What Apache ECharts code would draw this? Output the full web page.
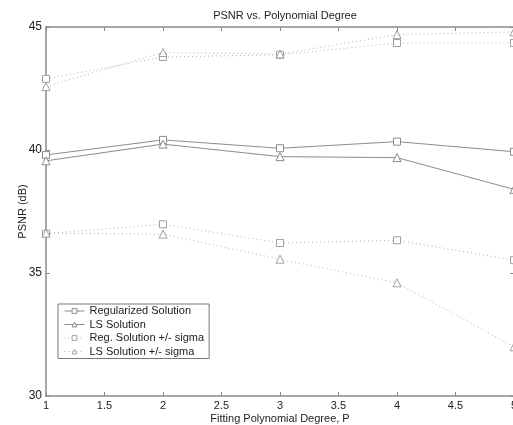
<!DOCTYPE html>
<html><head><meta charset="utf-8">
<script src="https://cdn.jsdelivr.net/npm/echarts@6/dist/echarts.min.js"></script>
<style>html,body{margin:0;padding:0;background:#fff}#c{width:513px;height:425px}</style>
</head><body><div id="c"></div>
<script>
const degrees = [1, 2, 3, 4, 5];
const regSolution = [39.80, 40.41, 40.07, 40.34, 39.93];
const lsSolution = [39.56, 40.24, 39.73, 39.69, 38.40];
const regUpper = [42.89, 43.78, 43.87, 44.35, 44.35];
const regLower = [36.60, 36.98, 36.22, 36.33, 35.52];
const lsUpper = [42.58, 43.96, 43.90, 44.69, 44.80];
const lsLower = [36.62, 36.58, 35.56, 34.60, 32.00];
const xTicks = [1, 1.5, 2, 2.5, 3, 3.5, 4, 4.5, 5];
const yTicks = [30, 35, 40, 45];

const pair = (ys) => degrees.map((x, i) => [x, ys[i]]);
const FONT = 'Liberation Sans';
const axisCol = '#8a8a8a';
const solidCol = '#8c8c8c';
const dotCol = '#b0b0b0';

function mk(name, ys, symbol, dotted) {
  return {
    name, type: 'line', data: pair(ys), symbol,
    symbolSize: symbol === 'triangle' ? 8 : 7,
    showSymbol: true,
    lineStyle: { color: dotted ? dotCol : solidCol, width: 1, type: dotted ? [1, 3] : 'solid' },
    itemStyle: { color: '#fff', borderColor: dotted ? '#a0a0a0' : solidCol, borderWidth: 1 },
    emphasis: { disabled: true }, animation: false, z: dotted ? 2 : 3
  };
}

const chart = echarts.init(document.getElementById('c'), null, { renderer: 'canvas' });
chart.setOption({
  backgroundColor: '#fff',
  animation: false,
  title: {
    text: 'PSNR vs. Polynomial Degree', left: 280, textAlign: 'center', top: 5,
    textStyle: { fontFamily: FONT, fontSize: 11, fontWeight: 'normal', color: '#222' }
  },
  grid: { left: 46, right: -1, top: 27, bottom: 29, containLabel: false, outerBoundsMode: 'none' },
  legend: {
    orient: 'vertical', left: 58, top: 304,
    data: ['Regularized Solution', 'LS Solution', 'Reg. Solution +/- sigma', 'LS Solution +/- sigma'],
    itemWidth: 20, itemHeight: 6, itemGap: 1.5,
    padding: [1, 5, 1, 6],
    borderColor: '#777', borderWidth: 1, backgroundColor: '#fff',
    itemStyle: { color: '#fff', borderWidth: 1 },
    lineStyle: { width: 1 },
    textStyle: { fontFamily: FONT, fontSize: 11, color: '#222', lineHeight: 12 },
    selectedMode: false
  },
  xAxis: [{
    type: 'value', min: xTicks[0], max: xTicks[xTicks.length - 1], interval: 0.5,
    position: 'bottom',
    name: 'Fitting Polynomial Degree, P', nameLocation: 'middle', nameGap: 17, nameMoveOverlap: false,
    nameTextStyle: { fontFamily: FONT, fontSize: 11, color: '#222' },
    axisLine: { lineStyle: { color: axisCol, width: 1.5 } },
    axisTick: { inside: true, length: 4, lineStyle: { color: axisCol } },
    axisLabel: { fontFamily: FONT, fontSize: 11, color: '#222', margin: 4 },
    splitLine: { show: false }
  }, {
    type: 'value', min: xTicks[0], max: xTicks[xTicks.length - 1], interval: 0.5,
    position: 'top',
    axisLine: { lineStyle: { color: axisCol, width: 1.5 } },
    axisTick: { inside: true, length: 4, lineStyle: { color: axisCol } },
    axisLabel: { show: false }, splitLine: { show: false }
  }],
  yAxis: [{
    type: 'value', min: yTicks[0], max: yTicks[yTicks.length - 1], interval: 5,
    position: 'left',
    name: 'PSNR (dB)', nameLocation: 'middle', nameGap: 18, nameMoveOverlap: false,
    nameTextStyle: { fontFamily: FONT, fontSize: 11, color: '#222' },
    axisLine: { show: true, lineStyle: { color: axisCol, width: 1.5 } },
    axisTick: { show: true, inside: true, length: 4, lineStyle: { color: axisCol } },
    axisLabel: { fontFamily: FONT, fontSize: 12, color: '#222', margin: 4 },
    splitLine: { show: false }
  }, {
    type: 'value', min: yTicks[0], max: yTicks[yTicks.length - 1], interval: 5,
    position: 'right',
    axisLine: { show: true, lineStyle: { color: axisCol, width: 1.5 } },
    axisTick: { show: true, inside: true, length: 4, lineStyle: { color: axisCol } },
    axisLabel: { show: false }, splitLine: { show: false }
  }],
  series: [
    mk('Regularized Solution', regSolution, 'rect', false),
    mk('LS Solution', lsSolution, 'triangle', false),
    mk('Reg. Solution +/- sigma', regUpper, 'rect', true),
    mk('Reg. Solution +/- sigma', regLower, 'rect', true),
    mk('LS Solution +/- sigma', lsUpper, 'triangle', true),
    mk('LS Solution +/- sigma', lsLower, 'triangle', true)
  ]
});
</script></body></html>
